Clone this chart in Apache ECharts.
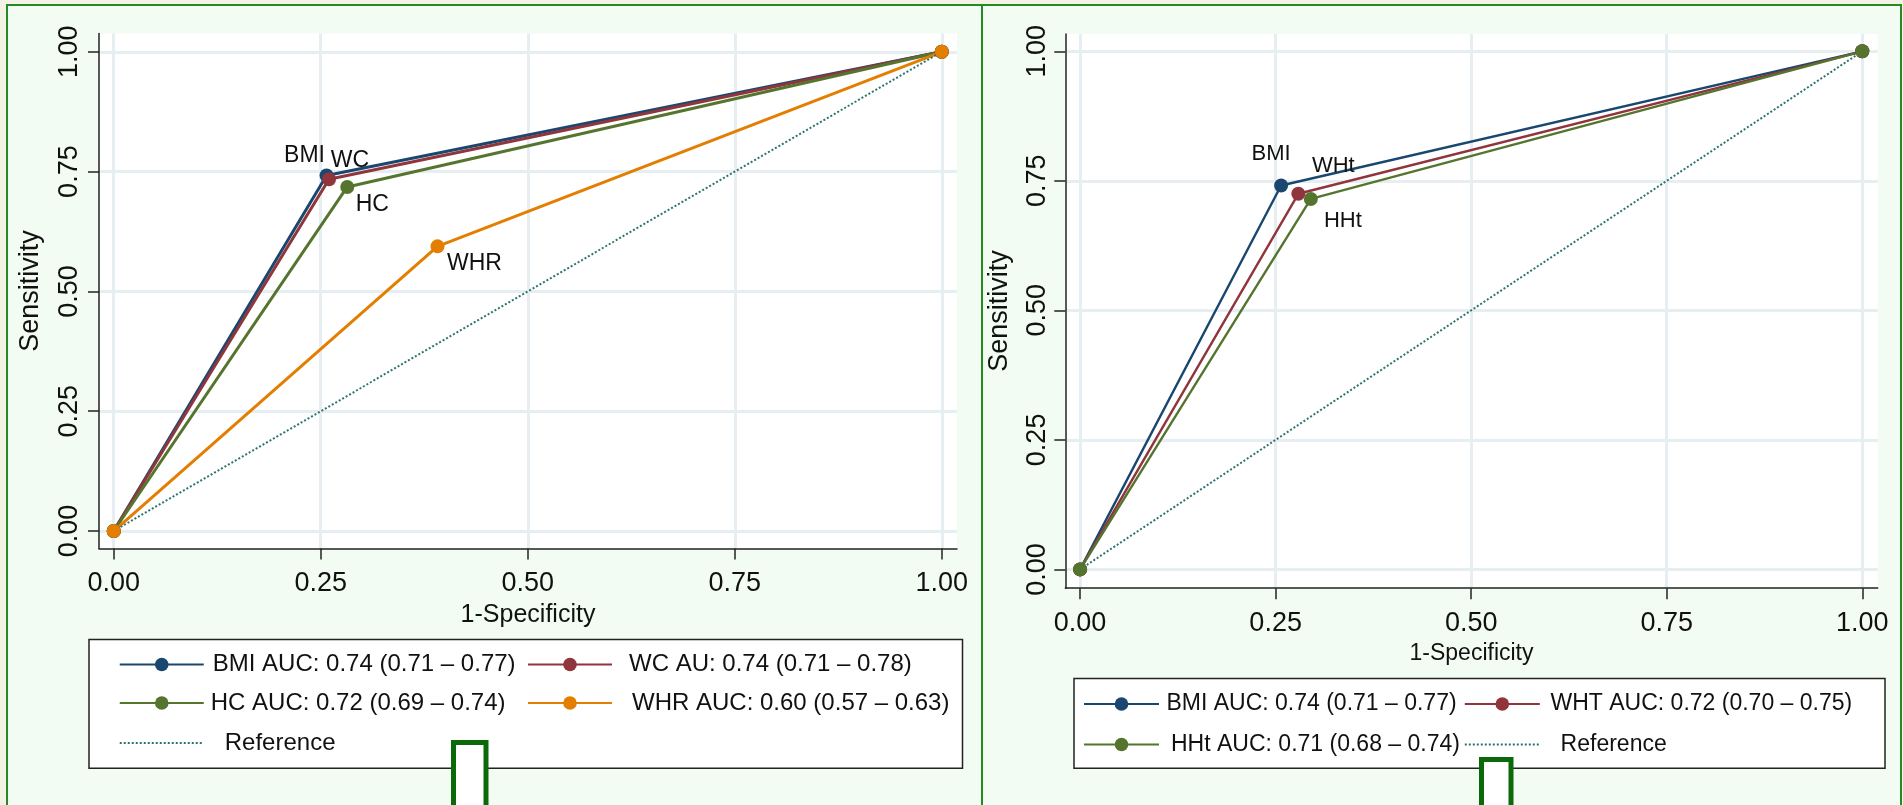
<!DOCTYPE html>
<html>
<head>
<meta charset="utf-8">
<script src="https://cdn.jsdelivr.net/npm/echarts@6/dist/echarts.min.js"></script>
<style>
html,body{margin:0;padding:0;background:#f4f2e4;}
#chart{width:1903px;height:805px;}
</style>
</head>
<body>
<div id="chart"></div>
<script>
// ---------- data ----------
const tickValues = [0, 0.25, 0.5, 0.75, 1];

// Left panel (1-Specificity, Sensitivity)
const leftBmiX = [0, 0.257, 1];
const leftBmiY = [0, 0.742, 1];
const leftWcX  = [0, 0.260, 1];
const leftWcY  = [0, 0.734, 1];
const leftHcX  = [0, 0.282, 1];
const leftHcY  = [0, 0.718, 1];
const leftWhrX = [0, 0.391, 1];
const leftWhrY = [0, 0.594, 1];

// Right panel
const rightBmiX = [0, 0.257, 1];
const rightBmiY = [0, 0.741, 1];
const rightWhtX = [0, 0.279, 1];
const rightWhtY = [0, 0.725, 1];
const rightHhtX = [0, 0.295, 1];
const rightHhtY = [0, 0.715, 1];

const refX = [0, 1];
const refY = [0, 1];

const leftPointLabels  = ['BMI', 'WC', 'HC', 'WHR'];
const rightPointLabels = ['BMI', 'WHt', 'HHt'];
const leftLegendNames  = ['BMI AUC: 0.74 (0.71 – 0.77)', 'WC AU: 0.74 (0.71 – 0.78)', 'HC AUC: 0.72 (0.69 – 0.74)', 'WHR AUC: 0.60 (0.57 – 0.63)', 'Reference'];
const rightLegendNames = ['BMI AUC: 0.74 (0.71 – 0.77)', 'WHT AUC: 0.72 (0.70 – 0.75)', 'HHt AUC: 0.71 (0.68 – 0.74)', 'Reference'];
const xAxisTitle = '1-Specificity';
const yAxisTitle = 'Sensitivity';

// ---------- styles / layout ----------
const FONT = "'Liberation Sans', Arial, sans-serif";
const COLORS = { navy: '#1a476f', maroon: '#90353b', green: '#55752f', orange: '#e37e00', teal: '#2b7470' };

const pairs = (xs, ys) => xs.map((x, i) => [x, ys[i]]);

function rocSeries(name, xs, ys, color, gi, label, labelOffset, lw, sym, labelSize) {
  const data = pairs(xs, ys).map((p, i) => {
    if (i === 1) {
      return { value: p, label: { show: true, formatter: label, position: 'inside', offset: labelOffset,
        fontSize: labelSize, fontFamily: FONT, color: '#111' } };
    }
    return p;
  });
  return {
    type: 'line', name, xAxisIndex: gi, yAxisIndex: gi, data,
    symbol: 'circle', symbolSize: sym, showSymbol: true,
    lineStyle: { color, width: lw }, itemStyle: { color },
    label: { show: false }, emphasis: { disabled: true }, animation: false, z: 3
  };
}
function refSeries(gi) {
  return {
    type: 'line', name: 'Reference', xAxisIndex: gi, yAxisIndex: gi, data: pairs(refX, refY),
    symbol: 'none', lineStyle: { color: COLORS.teal, width: 2, type: 'dotted' },
    itemStyle: { color: COLORS.teal }, emphasis: { disabled: true }, animation: false, z: 3
  };
}

const axisColor = '#222';
function xAxis(gi, min, max, margin, nameGap, nameSize) {
  return {
    type: 'value', gridIndex: gi, min, max,
    axisLine: { show: true, onZero: false, lineStyle: { color: axisColor, width: 1.5 } },
    axisTick: { show: true, length: 11, customValues: tickValues, lineStyle: { color: axisColor, width: 1.5 } },
    axisLabel: { customValues: tickValues, formatter: v => v.toFixed(2), margin, fontSize: 27, fontFamily: FONT, color: '#111' },
    splitLine: { show: true, lineStyle: { color: '#e6eef1', width: 3 } },
    name: xAxisTitle, nameLocation: 'middle', nameGap, nameTextStyle: { fontSize: nameSize, fontFamily: FONT, color: '#111' }
  };
}
function yAxis(gi, min, max, margin, nameGap) {
  return {
    type: 'value', gridIndex: gi, min, max,
    axisLine: { show: true, onZero: false, lineStyle: { color: axisColor, width: 1.5 } },
    axisTick: { show: true, length: 11, customValues: tickValues, lineStyle: { color: axisColor, width: 1.5 } },
    axisLabel: { customValues: tickValues, formatter: v => v.toFixed(2), rotate: 90, margin, fontSize: 27, fontFamily: FONT, color: '#111' },
    splitLine: { show: true, lineStyle: { color: '#e6eef1', width: 3 } },
    name: yAxisTitle, nameLocation: 'middle', nameGap, nameTextStyle: { fontSize: 27, fontFamily: FONT, color: '#111' }
  };
}
function legendAt(name, left, top, itemWidth, fontSize, padLeft, hideSymbol) {
  const l = {
    data: [name], left, top, itemWidth, itemHeight: 17, padding: 0, selectedMode: false,
    textStyle: { fontSize, fontFamily: FONT, color: '#111', padding: [0, 0, 0, padLeft] }
  };
  if (hideSymbol) l.itemStyle = { opacity: 0 };
  return l;
}

const chart = echarts.init(document.getElementById('chart'));
chart.setOption({
  backgroundColor: '#f4f2e4',
  animation: false,
  grid: [
    { left: 99, top: 33.5, width: 858, height: 515, show: true, backgroundColor: '#ffffff', borderWidth: 0 },
    { left: 1065.3, top: 34, width: 812.4, height: 554.2, show: true, backgroundColor: '#ffffff', borderWidth: 0 }
  ],
  xAxis: [ xAxis(0, -0.0178, 1.0184, 22, 51, 25), xAxis(1, -0.0189, 1.0197, 22, 51, 23) ],
  yAxis: [ yAxis(0, -0.0365, 1.0382, 16, 54.5), yAxis(1, -0.0363, 1.0334, 14, 52) ],
  legend: [
    legendAt(leftLegendNames[0], 118.75, 652.5, 84, 24, 4),
    legendAt(leftLegendNames[1], 527, 652.5, 84, 24, 12),
    legendAt(leftLegendNames[2], 118.75, 691, 84, 24, 2),
    legendAt(leftLegendNames[3], 527, 691, 84, 24, 15),
    legendAt(leftLegendNames[4], 118.75, 731, 84, 24, 16, true),
    legendAt(rightLegendNames[0], 1083, 692.5, 75, 23, 2.4),
    legendAt(rightLegendNames[1], 1463.8, 692.5, 75, 23, 5.7),
    legendAt(rightLegendNames[2], 1083, 733, 75, 23, 7),
    legendAt(rightLegendNames[3], 1463.8, 733, 75, 23, 15.8, true)
  ],
  graphic: [
    { type: 'rect', z: -10, shape: { x: 7, y: 5, width: 975, height: 900 }, style: { fill: '#f3fcf3', stroke: '#248a24', lineWidth: 2 } },
    { type: 'rect', z: -10, shape: { x: 982, y: 5, width: 919, height: 900 }, style: { fill: '#f3fcf3', stroke: '#248a24', lineWidth: 2 } },
    { type: 'rect', z: 1, shape: { x: 89, y: 639.5, width: 873.5, height: 128.8 }, style: { fill: '#ffffff', stroke: '#222', lineWidth: 1.5 } },
    { type: 'rect', z: 1, shape: { x: 1074, y: 678.5, width: 811, height: 89.8 }, style: { fill: '#ffffff', stroke: '#222', lineWidth: 1.5 } },
    { type: 'rect', z: 20, shape: { x: 453.5, y: 742.5, width: 32.5, height: 120 }, style: { fill: '#ffffff', stroke: '#0a6a0a', lineWidth: 5 } },
    { type: 'rect', z: 20, shape: { x: 1481.5, y: 759.5, width: 29.5, height: 120 }, style: { fill: '#ffffff', stroke: '#0a6a0a', lineWidth: 5 } }
  ],
  series: [
    rocSeries(leftLegendNames[0], leftBmiX, leftBmiY, COLORS.navy, 0, leftPointLabels[0], [-22, -20], 3, 14, 23),
    rocSeries(leftLegendNames[1], leftWcX, leftWcY, COLORS.maroon, 0, leftPointLabels[1], [21, -19], 3, 14, 23),
    rocSeries(leftLegendNames[2], leftHcX, leftHcY, COLORS.green, 0, leftPointLabels[2], [25, 17.5], 3, 14, 23),
    rocSeries(leftLegendNames[3], leftWhrX, leftWhrY, COLORS.orange, 0, leftPointLabels[3], [37, 17.5], 3, 14, 23),
    refSeries(0),
    rocSeries(rightLegendNames[0], rightBmiX, rightBmiY, COLORS.navy, 1, rightPointLabels[0], [-10, -32], 2.4, 14, 22),
    rocSeries(rightLegendNames[1], rightWhtX, rightWhtY, COLORS.maroon, 1, rightPointLabels[1], [35, -28], 2.4, 14, 22),
    rocSeries(rightLegendNames[2], rightHhtX, rightHhtY, COLORS.green, 1, rightPointLabels[2], [32, 22], 2.4, 14, 22),
    refSeries(1)
  ]
});
</script>
</body>
</html>
